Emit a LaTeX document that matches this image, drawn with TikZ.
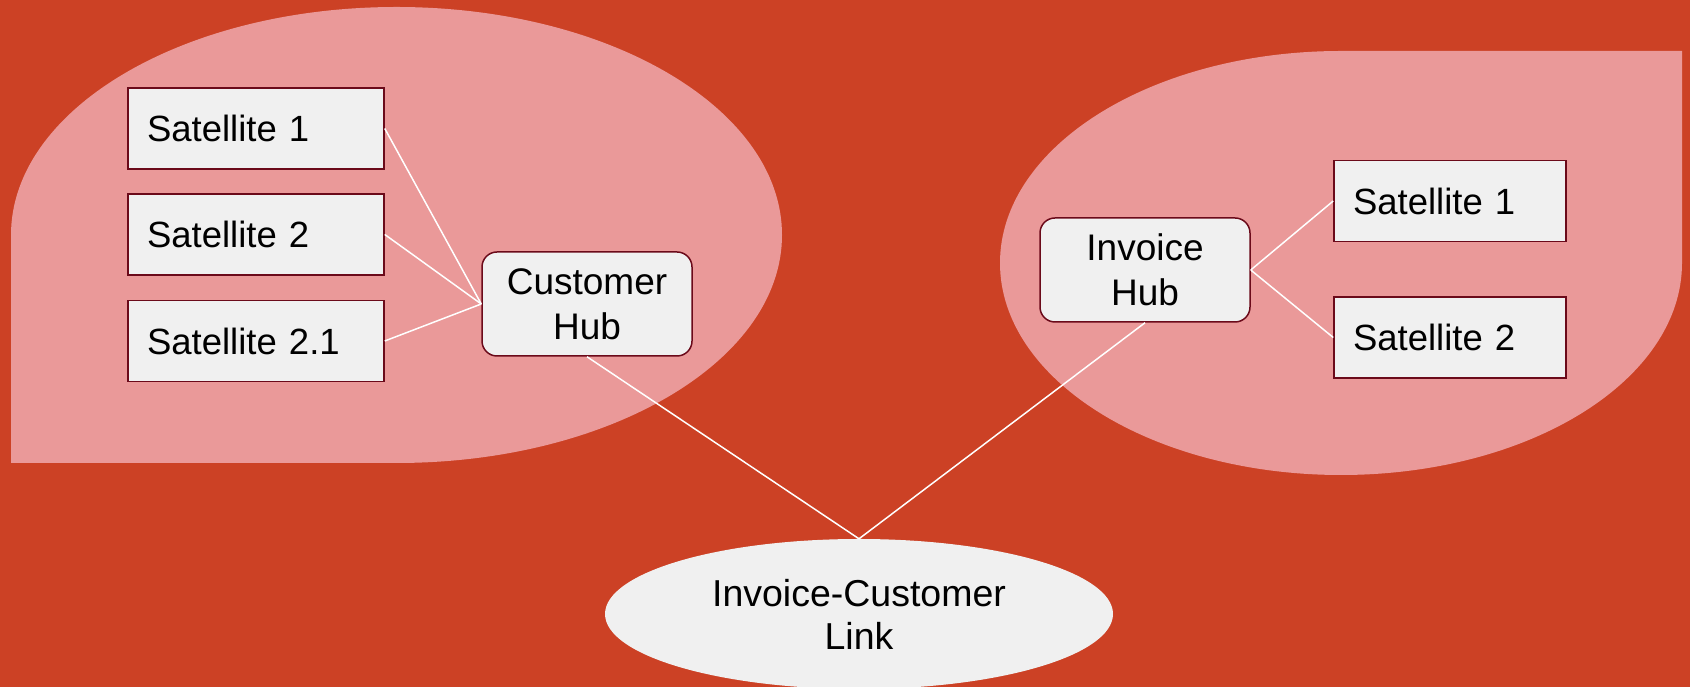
\documentclass[tikz,border=0pt]{standalone}
\usepackage{fontspec}
\setmainfont{Liberation Sans}
\usetikzlibrary{shapes.geometric}
\definecolor{bgred}{HTML}{CC4125}
\definecolor{blobpink}{HTML}{EA9999}
\definecolor{boxfill}{HTML}{F0F0F0}
\definecolor{boxline}{HTML}{6B0A1A}
\begin{document}
\begin{tikzpicture}[x=1pt,y=1pt,
  satbox/.style={draw=boxline,line width=1.5pt,fill=boxfill,rectangle,inner xsep=19pt,inner ysep=0pt,
    text width=#1,align=left,minimum height=81pt,font=\fontsize{36.5}{43}\selectfont},
  hubbox/.style={draw=boxline,line width=1.5pt,fill=boxfill,rectangle,rounded corners=15pt,
    minimum width=210pt,minimum height=104pt,inner sep=0pt,align=center,font=\fontsize{37}{45}\selectfont},
  linkell/.style={ellipse,fill=boxfill,minimum width=508pt,minimum height=150pt,inner sep=0pt,
    align=center,font=\fontsize{37.5}{43}\selectfont},
  conn/.style={draw=white,line width=1.5pt}]
\useasboundingbox (0,0) rectangle (1690,687);
\fill[bgred] (0,0) rectangle (1690,687);
% left blob
\fill[blobpink] (11,224) -- (11,452) arc[start angle=180,end angle=-90,x radius=385.5pt,y radius=228pt] -- cycle;
% right blob
\fill[blobpink] (1682,636) -- (1682,424) arc[start angle=0,end angle=-270,x radius=341pt,y radius=212pt] -- cycle;
% nodes
\node[satbox=218pt] (ls1) at (256,558.5) {Satellite 1};
\node[satbox=218pt] (ls2) at (256,452.5) {Satellite 2};
\node[satbox=218pt] (ls3) at (256,346) {Satellite 2.1};
\node[hubbox] (chub) at (587,383) {Customer\\Hub};
\node[hubbox] (ihub) at (1145,417) {Invoice\\Hub};
\node[satbox=194pt] (rs1) at (1450,486) {Satellite 1};
\node[satbox=194pt] (rs2) at (1450,349.5) {Satellite 2};
\node[linkell] (link) at (859,73) {Invoice-Customer\\Link};
% connectors
\draw[conn] (ls1.east) -- (chub.west);
\draw[conn] (ls2.east) -- (chub.west);
\draw[conn] (ls3.east) -- (chub.west);
\draw[conn] (ihub.east) -- (rs1.west);
\draw[conn] (ihub.east) -- (rs2.west);
\draw[conn] (chub.south) -- (link.north);
\draw[conn] (ihub.south) -- (link.north);
\end{tikzpicture}
\end{document}
